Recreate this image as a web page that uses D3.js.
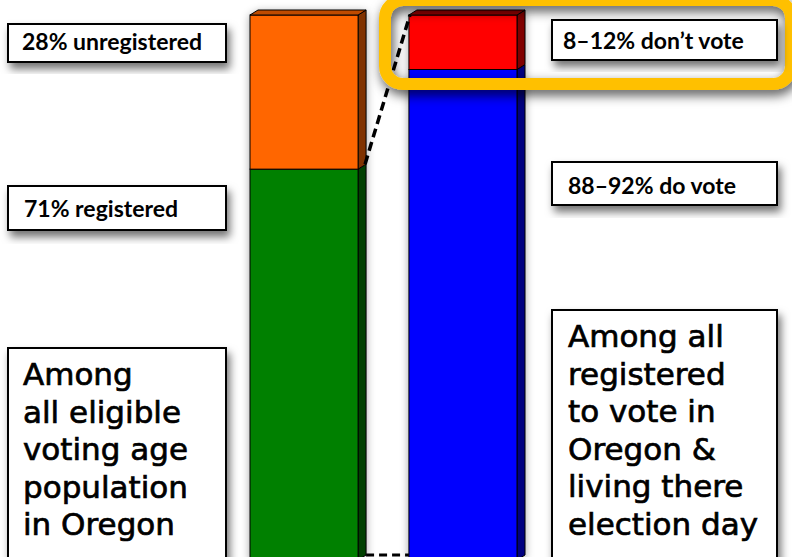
<!DOCTYPE html>
<html>
<head>
<meta charset="utf-8">
<script src="https://cdn.jsdelivr.net/npm/d3@7/dist/d3.min.js"></script>
<style>
  html, body { margin: 0; padding: 0; background: #fff; }
  svg { display: block; }
</style>
</head>
<body>
<svg id="chart" width="792" height="557"></svg>
<script>
// ---- data ----
const categories = ["eligible", "registered"];
const eligibleSegments = ["registered", "unregistered"];
const eligibleValues = [71, 28];
const registeredSegments = ["do vote", "don't vote"];
const registeredValues = [90, 10];
const segmentLabels = ["28% unregistered", "71% registered", "8\u201312% don\u2019t vote", "88\u201392% do vote"];
const leftNote = ["Among", "all eligible", "voting age", "population", "in Oregon"];
const rightNote = ["Among all", "registered", "to vote in", "Oregon &", "living there", "election day"];

const palette = {
  "registered":   {front: "#008000", side: "#004000", top: "#005500"},
  "unregistered": {front: "#FF6600", side: "#803300", top: "#BF4C00"},
  "do vote":      {front: "#0000FF", side: "#000080", top: "#000099"},
  "don't vote":   {front: "#FF0000", side: "#800000", top: "#990000"}
};

const svg = d3.select("#chart");
const defs = svg.append("defs");
function shadow(id, dx, dy, sd, op) {
  const f = defs.append("filter").attr("id", id)
    .attr("x", "-30%").attr("y", "-30%").attr("width", "160%").attr("height", "160%");
  f.append("feDropShadow").attr("dx", dx).attr("dy", dy)
    .attr("stdDeviation", sd).attr("flood-color", "#000").attr("flood-opacity", op);
}
shadow("boxShadow", 3, 6, 4.5, 0.55);
shadow("barShadow", 0, 2, 4, 0.35);
shadow("hlShadow", 2, 5, 6, 0.7);

const barTop = 15, barBottom = 560;
const depthX = 8, depthY = -5;

const x = d3.scaleBand().domain(categories).range([250, 517]).paddingInner(0.32).paddingOuter(0);

function stack(keys, values) {
  let acc = 0;
  return keys.map((k, i) => { const s = {key: k, y0: acc, y1: acc + values[i]}; acc += values[i]; return s; });
}
const bars = [
  {cat: "eligible", segs: stack(eligibleSegments, eligibleValues), total: d3.sum(eligibleValues)},
  {cat: "registered", segs: stack(registeredSegments, registeredValues), total: d3.sum(registeredValues)}
];
bars.forEach(b => { b.y = d3.scaleLinear().domain([0, b.total]).range([barBottom, barTop]); });

const barG = svg.append("g");
bars.forEach(b => {
  const g = barG.append("g").attr("filter", "url(#barShadow)");
  const x0 = x(b.cat), x1 = x0 + x.bandwidth();
  b.segs.forEach((s, i) => {
    const c = palette[s.key];
    const yt = b.y(s.y1), yb = b.y(s.y0);
    g.append("polygon")
      .attr("points", [[x1, yb], [x1, yt], [x1 + depthX, yt + depthY], [x1 + depthX, yb + depthY]].map(p => p.join(",")).join(" "))
      .attr("fill", c.side).attr("stroke", "#000").attr("stroke-width", 1).attr("stroke-linejoin", "round");
    g.append("rect").attr("x", x0).attr("y", yt).attr("width", x1 - x0).attr("height", yb - yt)
      .attr("fill", c.front).attr("stroke", "#000").attr("stroke-width", 1);
    if (i === b.segs.length - 1) {
      g.append("polygon")
        .attr("points", [[x0, yt], [x0 + depthX, yt + depthY], [x1 + depthX, yt + depthY], [x1, yt]].map(p => p.join(",")).join(" "))
        .attr("fill", c.top).attr("stroke", "#000").attr("stroke-width", 1).attr("stroke-linejoin", "round");
    }
  });
});

// dashed connector lines
const L = bars[0], R = bars[1];
const lx1 = x(L.cat) + x.bandwidth() + depthX, rx0 = x(R.cat);
const regTop = L.segs[0].y1;
svg.append("line")
  .attr("x1", lx1 - 1).attr("y1", L.y(regTop) + depthY)
  .attr("x2", rx0 + 1).attr("y2", R.y(R.total))
  .attr("stroke", "#000").attr("stroke-width", 3.5).attr("stroke-dasharray", "9,5");
svg.append("line")
  .attr("x1", lx1).attr("y1", L.y(0) + depthY)
  .attr("x2", rx0).attr("y2", L.y(0) + depthY)
  .attr("stroke", "#000").attr("stroke-width", 3).attr("stroke-dasharray", "8,5");

// highlight rounded frame
svg.append("rect").attr("x", 385).attr("y", 0).attr("width", 406).attr("height", 84)
  .attr("rx", 18).attr("ry", 18)
  .attr("fill", "none").attr("stroke", "#FFC000").attr("stroke-width", 12)
  .attr("filter", "url(#hlShadow)");

// label boxes
const smallFont = "Lato, 'Open Sans', sans-serif";
const boxes = [
  {text: segmentLabels[0], x: 8, y: 24, w: 218, h: 38, tx: 22, ty: 50},
  {text: segmentLabels[1], x: 8, y: 186, w: 218, h: 44, tx: 24, ty: 217},
  {text: segmentLabels[2], x: 552, y: 20, w: 225, h: 40, tx: 563, ty: 49},
  {text: segmentLabels[3], x: 552, y: 162, w: 225, h: 43, tx: 568, ty: 194}
];
boxes.forEach(b => {
  svg.append("rect").attr("x", b.x).attr("y", b.y).attr("width", b.w).attr("height", b.h)
    .attr("fill", "#fff").attr("stroke", "#000").attr("stroke-width", 2).attr("filter", "url(#boxShadow)");
  svg.append("text").attr("x", b.tx).attr("y", b.ty).text(b.text)
    .attr("font-family", smallFont).attr("font-weight", 700).attr("font-size", 23).attr("fill", "#000");
});

// big note boxes
const bigFont = "'DejaVu Sans', sans-serif";
function note(lines, bx, by, bw, tx, ty0) {
  svg.append("rect").attr("x", bx).attr("y", by).attr("width", bw).attr("height", 600 - by)
    .attr("fill", "#fff").attr("stroke", "#000").attr("stroke-width", 2).attr("filter", "url(#boxShadow)");
  const t = svg.append("text").attr("font-family", bigFont).attr("font-size", 31).attr("fill", "#000")
    .attr("stroke", "#000").attr("stroke-width", 0.7);
  lines.forEach((ln, i) => t.append("tspan").attr("x", tx).attr("y", ty0 + i * 37.5).text(ln));
}
note(leftNote, 8, 348, 218, 23, 385);
note(rightNote, 552, 310, 225, 568, 347);
</script>
</body>
</html>
